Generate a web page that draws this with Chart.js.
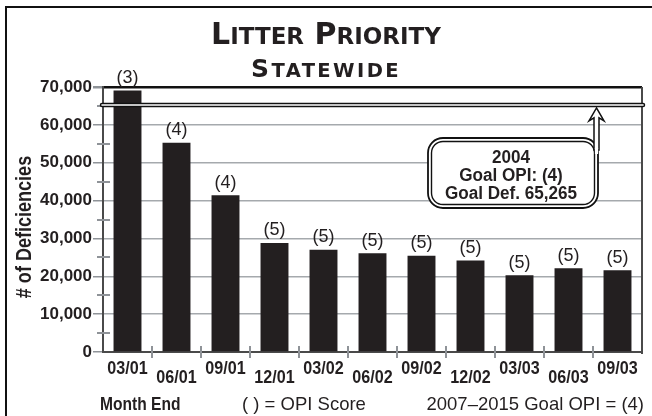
<!DOCTYPE html>
<html>
<head>
<meta charset="utf-8">
<script src="https://cdn.jsdelivr.net/npm/chart.js@4.4.0/dist/chart.umd.min.js"></script>
<style>
  html, body { margin: 0; padding: 0; background: #fff; }
  #wrap { width: 652px; height: 416px; }
  canvas { display: block; }
</style>
</head>
<body>
<div id="wrap"><canvas id="chart" width="652" height="416"></canvas></div>
<script>
// Litter priority deficiencies, statewide, by quarter (month end)
const monthEnds = ['03/01', '06/01', '09/01', '12/01', '03/02', '06/02', '09/02', '12/02', '03/03', '06/03', '09/03'];
const deficiencies = [69100, 55300, 41400, 28800, 27000, 26100, 25400, 24200, 20300, 22100, 21600];
const opiScores = [3, 4, 4, 5, 5, 5, 5, 5, 5, 5, 5];

// Axis range and ticks
const yMin = 0;
const yMax = 70000;
const yStep = 10000;
const yMinorStep = 5000;

// 2004 goal
const goalYear = '2004';
const goalOpi = 4;
const goalDeficiencies = 65265;

// Titles and footnotes
const titleMain = 'Litter Priority';
const titleSub = 'Statewide';
const yTitle = '# of Deficiencies';
const footLeft = 'Month End';
const footMid = '( ) = OPI Score';
const footRight = '2007\u20132015 Goal OPI = (4)';

const INK = '#231f20';
const GRID = '#a5a9ad';
const AXIS = '#4a4a4a';
const SANS = '"Liberation Sans", Arial, sans-serif';

// Draws words with a large first letter and small capitals after it
function drawSmallCaps(ctx, text, cx, baseline, bigSize, smallSize, family, spacing) {
  const parts = [];
  text.split(' ').forEach((word, wi) => {
    if (wi > 0) parts.push({ t: ' ', s: bigSize });
    parts.push({ t: word[0].toUpperCase(), s: bigSize });
    parts.push({ t: word.slice(1).toUpperCase(), s: smallSize });
  });
  ctx.save();
  ctx.letterSpacing = spacing + 'px';
  let total = 0;
  parts.forEach(p => {
    ctx.font = 'bold ' + p.s + 'px ' + family;
    p.w = ctx.measureText(p.t).width;
    total += p.w;
  });
  let xx = cx - total / 2;
  ctx.textAlign = 'left';
  ctx.textBaseline = 'alphabetic';
  ctx.fillStyle = INK;
  parts.forEach(p => {
    ctx.font = 'bold ' + p.s + 'px ' + family;
    ctx.fillText(p.t, xx, baseline);
    xx += p.w;
  });
  ctx.restore();
}

// Condensed text: the glyphs are squeezed horizontally around the anchor
function drawNarrow(ctx, text, x, y, align, font, squeeze, rotate) {
  ctx.save();
  ctx.translate(x, y);
  if (rotate) ctx.rotate(rotate);
  ctx.scale(squeeze, 1);
  ctx.font = font;
  ctx.textAlign = align;
  ctx.fillText(text, 0, 0);
  ctx.restore();
}

function roundRect(ctx, x, y, w, h, r) {
  ctx.beginPath();
  ctx.moveTo(x + r, y);
  ctx.lineTo(x + w - r, y);
  ctx.arcTo(x + w, y, x + w, y + r, r);
  ctx.lineTo(x + w, y + h - r);
  ctx.arcTo(x + w, y + h, x + w - r, y + h, r);
  ctx.lineTo(x + r, y + h);
  ctx.arcTo(x, y + h, x, y + h - r, r);
  ctx.lineTo(x, y + r);
  ctx.arcTo(x, y, x + r, y, r);
  ctx.closePath();
}

const decor = {
  id: 'decor',
  beforeDraw(chart) {
    const ctx = chart.ctx;
    ctx.save();
    ctx.fillStyle = '#fff';
    ctx.fillRect(0, 0, chart.width, chart.height);
    ctx.restore();
  },
  afterDatasetsDraw(chart) {
    const { ctx, chartArea: ca, scales: { x, y } } = chart;
    ctx.save();

    // minor ticks on the value axis
    ctx.strokeStyle = '#8f9398';
    ctx.lineWidth = 2;
    for (let v = yMin + yMinorStep; v < yMax; v += yStep) {
      const py = Math.round(y.getPixelForValue(v));
      ctx.beginPath();
      ctx.moveTo(ca.left - 6, py);
      ctx.lineTo(ca.left + 7, py);
      ctx.stroke();
    }

    // tick marks between categories
    for (let i = 1; i < monthEnds.length; i++) {
      const px = Math.round((x.getPixelForValue(i - 1) + x.getPixelForValue(i)) / 2);
      ctx.beginPath();
      ctx.moveTo(px, ca.bottom - 6);
      ctx.lineTo(px, ca.bottom + 6);
      ctx.stroke();
    }

    // right frame of the plot
    ctx.strokeStyle = AXIS;
    ctx.lineWidth = 2;
    ctx.beginPath();
    ctx.moveTo(ca.right, ca.top);
    ctx.lineTo(ca.right, ca.bottom + 2);
    ctx.stroke();

    // category labels, staggered on two rows
    ctx.fillStyle = INK;
    ctx.textBaseline = 'alphabetic';
    monthEnds.forEach((m, i) => {
      const py = ca.bottom + (i % 2 ? 30.5 : 22);
      drawNarrow(ctx, m, x.getPixelForValue(i), py, 'center', 'bold 19px ' + SANS, 0.85);
    });

    // OPI score above each bar
    const meta = chart.getDatasetMeta(0);
    ctx.fillStyle = INK;
    ctx.font = '18px ' + SANS;
    ctx.textAlign = 'center';
    meta.data.forEach((bar, i) => {
      ctx.fillText('(' + opiScores[i] + ')', bar.x, bar.y - 7.5);
    });

    // goal line
    const gy = y.getPixelForValue(goalDeficiencies);
    ctx.lineCap = 'round';
    ctx.strokeStyle = '#111';
    ctx.lineWidth = 4.5;
    ctx.beginPath();
    ctx.moveTo(ca.left - 1, gy);
    ctx.lineTo(ca.right + 1, gy);
    ctx.stroke();
    ctx.strokeStyle = '#fff';
    ctx.lineWidth = 1.6;
    ctx.beginPath();
    ctx.moveTo(ca.left - 1, gy);
    ctx.lineTo(ca.right + 1, gy);
    ctx.stroke();
    ctx.lineCap = 'butt';

    // goal callout box
    const bw = 170, bh = 70;
    const bx = ca.left + 325, by = ca.top + 51;
    ctx.fillStyle = '#fff';
    roundRect(ctx, bx, by, bw, bh, 15);
    ctx.fill();
    ctx.strokeStyle = '#111';
    ctx.lineWidth = 1.8;
    ctx.stroke();
    roundRect(ctx, bx + 3.5, by + 3.5, bw - 7, bh - 7, 11.5);
    ctx.lineWidth = 1.4;
    ctx.stroke();

    // arrow from box to goal line
    const ax = bx + bw - 1.5;
    const baseY = by + 12;
    const tipY = gy + 3;
    ctx.beginPath();
    ctx.moveTo(ax, tipY);
    ctx.lineTo(ax + 7.5, tipY + 13);
    ctx.lineTo(ax + 2.5, tipY + 10);
    ctx.lineTo(ax + 2.5, baseY);
    ctx.lineTo(ax - 2.5, baseY);
    ctx.lineTo(ax - 2.5, tipY + 10);
    ctx.lineTo(ax - 7.5, tipY + 13);
    ctx.closePath();
    ctx.fillStyle = '#fff';
    ctx.fill();
    ctx.lineWidth = 1.5;
    ctx.lineJoin = 'miter';
    ctx.stroke();
    ctx.fillStyle = '#fff';
    ctx.fillRect(ax - 1.6, baseY - 2, 3.2, 6);

    ctx.fillStyle = INK;
    const tcx = bx + bw / 2 - 2;
    const boxFont = 'bold 18px ' + SANS;
    drawNarrow(ctx, goalYear, tcx, by + 25, 'center', boxFont, 0.95);
    drawNarrow(ctx, 'Goal OPI: (' + goalOpi + ')', tcx, by + 43, 'center', boxFont, 0.95);
    drawNarrow(ctx, 'Goal Def. ' + goalDeficiencies.toLocaleString('en-US'), tcx, by + 61, 'center', boxFont, 0.95);

    ctx.restore();
  },
  afterDraw(chart) {
    const { ctx } = chart;
    ctx.save();

    // outer frame
    ctx.strokeStyle = '#111';
    ctx.lineWidth = 2;
    ctx.strokeRect(6, 7, 700, 460);

    // titles
    const fam = '"DejaVu Sans", "Liberation Sans", sans-serif';
    drawSmallCaps(ctx, titleMain, 326, 43.5, 30, 23, fam, 0);
    drawSmallCaps(ctx, titleSub, 326, 77, 25, 19.5, fam, 2.4);

    // value axis title
    ctx.fillStyle = INK;
    ctx.textBaseline = 'middle';
    drawNarrow(ctx, yTitle, 25, 227, 'center', 'bold 22px ' + SANS, 0.82, -Math.PI / 2);

    // footnotes
    ctx.textBaseline = 'alphabetic';
    drawNarrow(ctx, footLeft, 100, 410, 'left', 'bold 19px ' + SANS, 0.82);
    ctx.font = '18.5px ' + SANS;
    ctx.textAlign = 'left';
    ctx.fillText(footMid, 242, 410);
    ctx.textAlign = 'right';
    ctx.fillText(footRight, 644, 410);

    ctx.restore();
  }
};

new Chart(document.getElementById('chart'), {
  type: 'bar',
  data: {
    labels: monthEnds,
    datasets: [{
      data: deficiencies,
      backgroundColor: INK,
      borderWidth: 0,
      barPercentage: 0.57,
      categoryPercentage: 1.0
    }]
  },
  options: {
    responsive: false,
    devicePixelRatio: 1,
    animation: false,
    layout: { padding: { left: 0, right: 10, top: 87, bottom: 0 } },
    plugins: { legend: { display: false }, title: { display: false }, tooltip: { enabled: false } },
    scales: {
      x: {
        type: 'category',
        offset: true,
        grid: { display: false },
        border: { display: true, color: AXIS, width: 2 },
        afterFit(scale) { scale.height = 64; },
        ticks: { display: false, autoSkip: false }
      },
      y: {
        min: yMin,
        max: yMax,
        afterFit(scale) { scale.width = 103; },
        border: { display: true, color: AXIS, width: 2 },
        grid: {
          color(ctx) { return ctx.tick && ctx.tick.value === yMax ? '#111' : GRID; },
          lineWidth(ctx) { return ctx.tick && ctx.tick.value === yMax ? 2.5 : 1.5; },
          tickColor: '#8f9398',
          tickLength: 10,
          drawTicks: true
        },
        ticks: {
          stepSize: yStep,
          padding: 1,
          color: INK,
          font: { family: SANS, weight: 'bold', size: 17 },
          callback(value) { return value.toLocaleString('en-US'); }
        }
      }
    }
  },
  plugins: [decor]
});
</script>
</body>
</html>
